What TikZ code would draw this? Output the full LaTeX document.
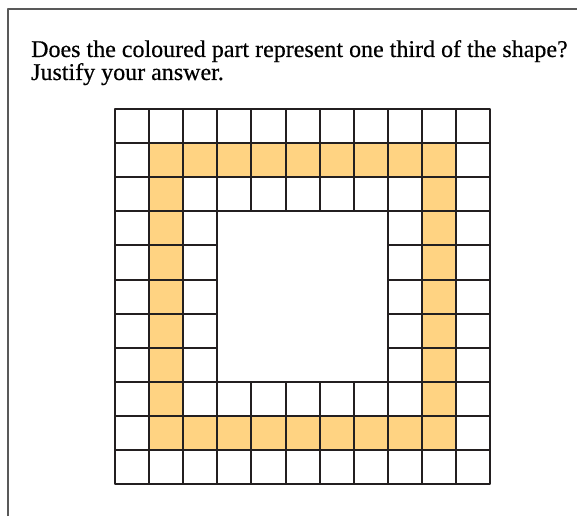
\documentclass[tikz,border=0pt]{standalone}
\usepackage{fontspec}
\setmainfont[FakeBold=0.5]{Liberation Serif}
\usetikzlibrary{positioning}
\definecolor{ringfill}{RGB}{255,211,130}
\definecolor{gridline}{RGB}{35,31,32}
\tikzset{
  cell/.style={draw=gridline, line width=2pt},
  question/.style={anchor=base west, align=left, inner sep=0pt,
    font=\fontsize{24}{22}\selectfont}
}

\begin{document}
\begin{tikzpicture}[x=1pt, y=-1pt, line join=round]

\useasboundingbox (0,0) rectangle (577,516);

% frame
\draw[gray!70!black, line width=1.1pt] (8,516) -- (8,9) -- (577,9);

\node (question) at (31,80) [question]
  {Does the coloured part represent one third of the shape?\\Justify your answer.};

\begin{scope}[shift={(115,109)}, x=34.1pt, y=-34.1pt]
% coloured ring
\fill[ringfill] (1,1) rectangle (10,10);
\fill[white] (2,2) rectangle (9,9);
% cells
\foreach \i in {0,...,10}{
  \foreach \j in {0,...,10}{
    \ifnum\i>2 \ifnum\i<8 \ifnum\j>2 \ifnum\j<8
      \relax
    \else \draw[cell] (\i,\j) rectangle +(1,1); \fi
    \else \draw[cell] (\i,\j) rectangle +(1,1); \fi
    \else \draw[cell] (\i,\j) rectangle +(1,1); \fi
    \else \draw[cell] (\i,\j) rectangle +(1,1); \fi
  }
}
\end{scope}

\end{tikzpicture}
\end{document}
